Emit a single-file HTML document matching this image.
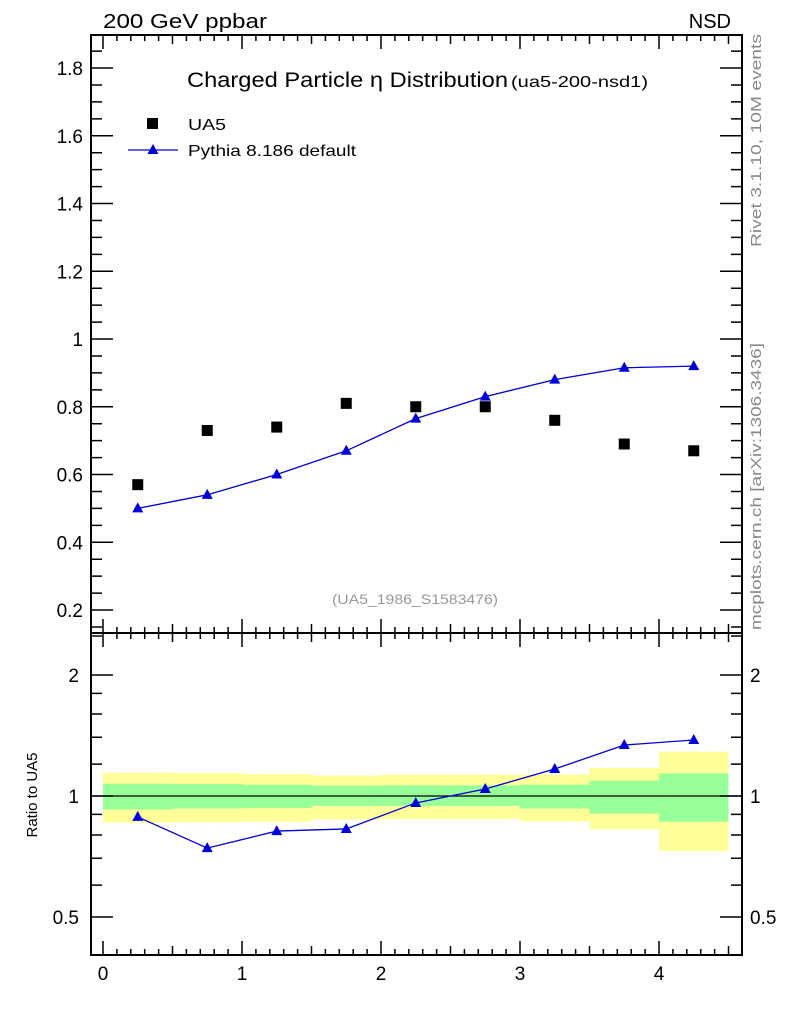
<!DOCTYPE html>
<html><head><meta charset="utf-8"><style>
body{margin:0;background:#fff;}
svg text{font-family:"Liberation Sans",Arial,sans-serif;}
</style></head><body>
<svg id="c" width="786" height="1024" xmlns="http://www.w3.org/2000/svg">
<text x="103" y="28" font-size="20" textLength="164" lengthAdjust="spacingAndGlyphs">200 GeV ppbar</text>
<text x="731" y="28" font-size="20" text-anchor="end">NSD</text>
<text x="187" y="87" font-size="21" textLength="321" lengthAdjust="spacingAndGlyphs">Charged Particle η Distribution</text>
<text x="511" y="87" font-size="16" textLength="137" lengthAdjust="spacingAndGlyphs">(ua5-200-nsd1)</text>
<text x="415" y="604" font-size="14" fill="#999" text-anchor="middle" textLength="166" lengthAdjust="spacingAndGlyphs">(UA5_1986_S1583476)</text>
<text transform="translate(761,247) rotate(-90)" font-size="15" fill="#888" textLength="213" lengthAdjust="spacingAndGlyphs">Rivet 3.1.10,  10M events</text>
<text transform="translate(761,630) rotate(-90)" font-size="15" fill="#888" textLength="287" lengthAdjust="spacingAndGlyphs">mcplots.cern.ch [arXiv:1306.3436]</text>
<text transform="translate(37,795) rotate(-90)" font-size="15" text-anchor="middle">Ratio to UA5</text>
<rect x="147" y="118" width="11" height="11" fill="#000"/>
<text x="188" y="130" font-size="16" textLength="38" lengthAdjust="spacingAndGlyphs">UA5</text>
<line x1="128" y1="150" x2="178" y2="150" stroke="#00d" stroke-width="1.3"/>
<polygon points="153,144 147.5,154 158.5,154" fill="#00d"/>
<text x="188" y="156" font-size="16" textLength="168" lengthAdjust="spacingAndGlyphs">Pythia 8.186 default</text>
<g id="g"></g>
</svg>
<script>
const xCenters=[0.25,0.75,1.25,1.75,2.25,2.75,3.25,3.75,4.25];
const ua5=[0.57,0.73,0.74,0.81,0.80,0.80,0.76,0.69,0.67];
const pythia=[0.50,0.54,0.60,0.67,0.765,0.83,0.88,0.915,0.92];
const ratio=[0.887,0.742,0.818,0.828,0.961,1.041,1.167,1.339,1.378];
const yellowHi=[1.143,1.141,1.134,1.124,1.130,1.130,1.131,1.174,1.289];
const yellowLo=[0.858,0.861,0.863,0.874,0.876,0.876,0.864,0.826,0.729];
const greenHi=[1.073,1.071,1.067,1.061,1.063,1.063,1.067,1.092,1.138];
const greenLo=[0.925,0.931,0.933,0.945,0.945,0.945,0.931,0.904,0.863];
const xTicks=[0,1,2,3,4];
const mainTicks=[0.2,0.4,0.6,0.8,1,1.2,1.4,1.6,1.8];
const ratioTicks=[0.5,1,2];

const NS="http://www.w3.org/2000/svg";
const g=document.getElementById('g');
const X=v=>103+v*139;
const Y=v=>610-(v-0.2)*338.75;
const R=v=>796-Math.log2(v)*121;
const L=91,Rt=742,T=35,M=633,B=955;
function mk(t,a,p){const e=document.createElementNS(NS,t);for(const k in a)e.setAttribute(k,a[k]);(p||g).appendChild(e);return e;}

for(let i=0;i<xCenters.length;i++){
  const x0=X(xCenters[i]-0.25),w=X(0.5)-X(0);
  const yb=mk('rect',{x:x0,y:R(yellowHi[i]),width:w,height:R(yellowLo[i])-R(yellowHi[i]),fill:'#ffff99'});
  
  
  const gb=mk('rect',{x:x0,y:R(greenHi[i]),width:w,height:R(greenLo[i])-R(greenHi[i]),fill:'#99ff99'});
  
  
}
const one=mk('line',{x1:L,x2:Rt,y1:R(1),y2:R(1),stroke:'#000','stroke-width':1.2});



const f1=mk('rect',{x:L,y:T,width:Rt-L,height:M-T,fill:'none',stroke:'#000','stroke-width':2});


const f2=mk('rect',{x:L,y:M,width:Rt-L,height:B-M,fill:'none',stroke:'#000','stroke-width':2});



let tp='';
for(let v=0;v<=4.55;v+=0.1){const vv=Math.round(v*10)/10;const x=X(vv);const len=(Math.abs(vv-Math.round(vv))<1e-6)?14:((Math.abs(vv*2-Math.round(vv*2))<1e-6)?9:6);
  tp+=`M${x},${T}v${len}M${x},${M}v${-len}M${x},${M}v${len}M${x},${B}v${-len}`;}
for(let v=0.15;v<=1.9;v+=0.05){const vv=Math.round(v*100)/100;const y=Y(vv);const maj=Math.abs(vv*5-Math.round(vv*5))<1e-6;const len=maj?22:11;
  tp+=`M${L},${y}h${len}M${Rt},${y}h${-len}`;}
const rt=[0.5,0.6,0.7,0.8,0.9,1,1.2,1.4,1.6,1.8,2,2.5];
rt.forEach(v=>{const y=R(v);const len=ratioTicks.includes(v)?22:11;tp+=`M${L},${y}h${len}M${Rt},${y}h${-len}`;});
const tk=mk('path',{d:tp,stroke:'#000','stroke-width':1.5,fill:'none'});



mainTicks.forEach(v=>{const t=mk('text',{x:83,y:Y(v)+7,'font-size':19,'text-anchor':'end'});t.textContent=String(v);
  
  });
ratioTicks.forEach(v=>{const t=mk('text',{x:79,y:R(v)+7,'font-size':19,'text-anchor':'end'});t.textContent=String(v);
  
  
  const t2=mk('text',{x:750,y:R(v)+7,'font-size':19});t2.textContent=String(v);
  
  });
xTicks.forEach(v=>{const t=mk('text',{x:X(v),y:980,'font-size':19,'text-anchor':'middle'});t.textContent=String(v);
  
  });

ua5.forEach((v,i)=>{const r=mk('rect',{x:X(xCenters[i])-5.5,y:Y(v)-5.5,width:11,height:11,fill:'#000'});
  
  });
function series(vals,fy,name){
  const pl=mk('polyline',{points:vals.map((v,i)=>X(xCenters[i])+','+fy(v)).join(' '),fill:'none',stroke:'#00d','stroke-width':1.3});
  
  
  vals.forEach((v,i)=>{const x=X(xCenters[i]),y=fy(v);
    const p=mk('polygon',{points:`${x},${y-6} ${x-5.5},${y+4} ${x+5.5},${y+4}`,fill:'#00d'});
    
    });
}
series(pythia,Y,'pythia');
series(ratio,R,'pythia-ratio');
</script>
</body></html>
